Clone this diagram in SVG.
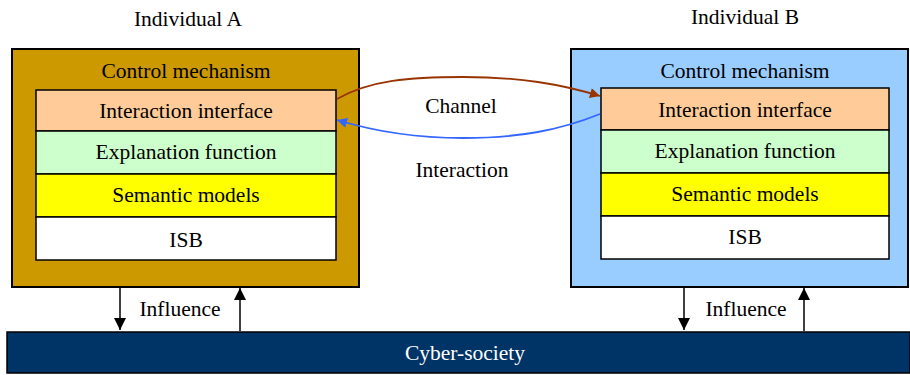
<svg xmlns="http://www.w3.org/2000/svg" width="910" height="375" viewBox="0 0 910 375">
<style>
.outer{stroke:#000;stroke-width:2}
.inner{stroke:#000;stroke-width:1.5}
.arr{fill:none;stroke:#000;stroke-width:1.5}
</style>
<defs>
<marker id="ab" viewBox="0 0 10 10" refX="10" refY="5" markerWidth="14" markerHeight="12" markerUnits="userSpaceOnUse" orient="auto"><path d="M0,0L10,5L0,10z" fill="#000"/></marker>
<marker id="ar" viewBox="0 0 10 10" refX="10" refY="5" markerWidth="14" markerHeight="10" markerUnits="userSpaceOnUse" orient="auto"><path d="M0,0L10,5L0,10z" fill="#993300"/></marker>
<marker id="abl" viewBox="0 0 10 10" refX="10" refY="5" markerWidth="14" markerHeight="10" markerUnits="userSpaceOnUse" orient="auto"><path d="M0,0L10,5L0,10z" fill="#3366FF"/></marker>
</defs>
<text x="188" y="26" font-family="Liberation Serif" font-size="21.5" text-anchor="middle">Individual A</text>
<text x="745" y="24" font-family="Liberation Serif" font-size="21.5" text-anchor="middle">Individual B</text>
<g id="individualA">
<rect class="outer" x="12" y="49" width="347" height="238" fill="#CC9900"/>
<text x="186" y="78" font-family="Liberation Serif" font-size="21.5" text-anchor="middle">Control mechanism</text>
<g id="A-interface"><rect class="inner" x="36" y="90" width="300" height="41" fill="#FFCC99"/><text x="186" y="118" font-family="Liberation Serif" font-size="21.5" text-anchor="middle">Interaction interface</text></g>
<g id="A-explanation"><rect class="inner" x="36" y="131" width="300" height="43" fill="#CCFFCC"/><text x="186" y="159" font-family="Liberation Serif" font-size="21.5" text-anchor="middle">Explanation function</text></g>
<g id="A-semantic"><rect class="inner" x="36" y="174" width="300" height="43" fill="#FFFF00"/><text x="186" y="202" font-family="Liberation Serif" font-size="21.5" text-anchor="middle">Semantic models</text></g>
<g id="A-isb"><rect class="inner" x="36" y="217" width="300" height="43" fill="#FFFFFF"/><text x="186" y="247" font-family="Liberation Serif" font-size="21.5" text-anchor="middle">ISB</text></g>
</g>
<g id="individualB">
<rect class="outer" x="571" y="49" width="337" height="238" fill="#99CCFF"/>
<text x="745" y="78" font-family="Liberation Serif" font-size="21.5" text-anchor="middle">Control mechanism</text>
<g id="B-interface"><rect class="inner" x="601" y="88" width="288" height="42" fill="#FFCC99"/><text x="745" y="117" font-family="Liberation Serif" font-size="21.5" text-anchor="middle">Interaction interface</text></g>
<g id="B-explanation"><rect class="inner" x="601" y="130" width="288" height="43" fill="#CCFFCC"/><text x="745" y="158" font-family="Liberation Serif" font-size="21.5" text-anchor="middle">Explanation function</text></g>
<g id="B-semantic"><rect class="inner" x="601" y="173" width="288" height="43" fill="#FFFF00"/><text x="745" y="201" font-family="Liberation Serif" font-size="21.5" text-anchor="middle">Semantic models</text></g>
<g id="B-isb"><rect class="inner" x="601" y="216" width="288" height="43" fill="#FFFFFF"/><text x="745" y="244" font-family="Liberation Serif" font-size="21.5" text-anchor="middle">ISB</text></g>
</g>
<g id="cyber-society">
<rect x="7" y="332" width="903" height="41" fill="#003366" stroke="#000" stroke-width="1.5"/>
<text x="465" y="360" font-family="Liberation Serif" font-size="21.5" text-anchor="middle" fill="#FFFFFF">Cyber-society</text>
</g>
<g id="connectors">
<path d="M337,99 C370,80 410,77 463,77 C520,77 560,84 600,96" fill="none" stroke="#993300" stroke-width="1.8" marker-end="url(#ar)"/>
<path d="M600,114 C560,130 520,138 463,138 C410,138 370,130 337,120" fill="none" stroke="#3366FF" stroke-width="1.8" marker-end="url(#abl)"/>
<line class="arr" x1="120" y1="288" x2="120" y2="330" marker-end="url(#ab)"/>
<line class="arr" x1="240" y1="331" x2="240" y2="288" marker-end="url(#ab)"/>
<line class="arr" x1="684" y1="288" x2="684" y2="330" marker-end="url(#ab)"/>
<line class="arr" x1="804" y1="331" x2="804" y2="288" marker-end="url(#ab)"/>
</g>
<text x="461" y="113" font-family="Liberation Serif" font-size="21.5" text-anchor="middle">Channel</text>
<text x="462" y="177" font-family="Liberation Serif" font-size="21.5" text-anchor="middle">Interaction</text>
<text x="180" y="316" font-family="Liberation Serif" font-size="21.5" text-anchor="middle">Influence</text>
<text x="746" y="316" font-family="Liberation Serif" font-size="21.5" text-anchor="middle">Influence</text>
</svg>
